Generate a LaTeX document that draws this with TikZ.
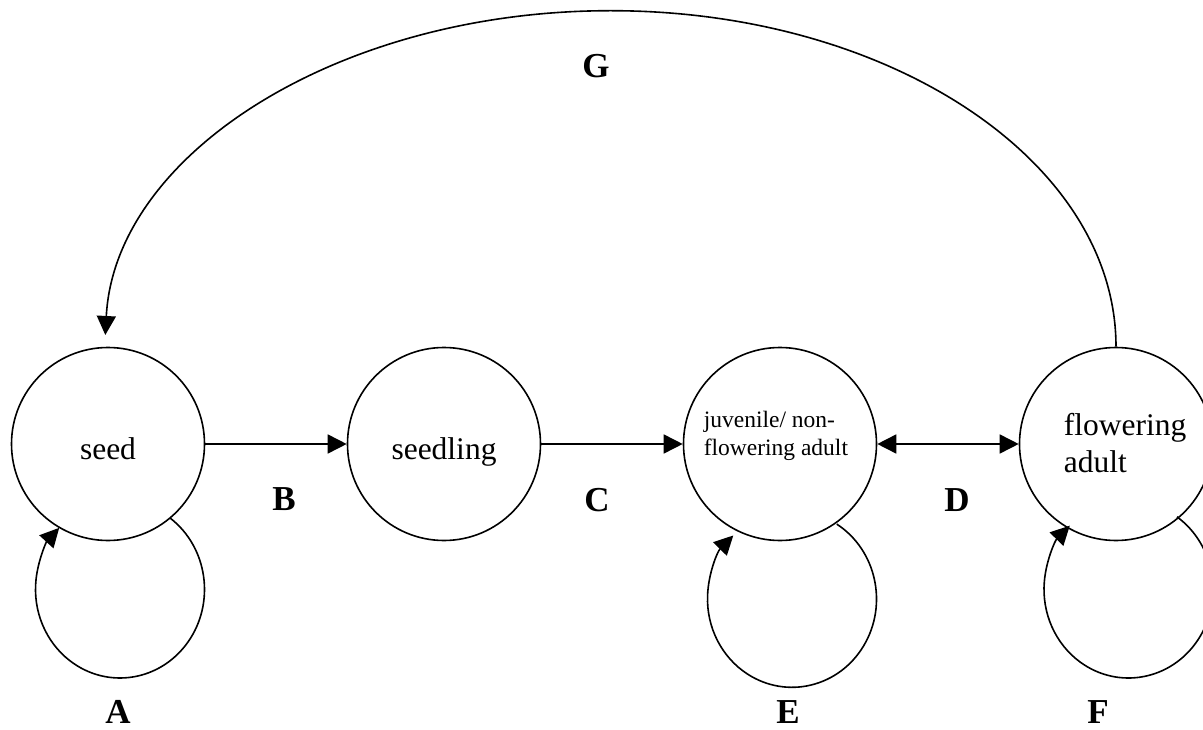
\documentclass[tikz,border=0pt]{standalone}
\usepackage{fontspec}
\setmainfont{Liberation Serif}
\usetikzlibrary{arrows.meta,calc}
\begin{document}
\begin{tikzpicture}[x=1pt,y=-1pt,
  line width=1.6pt,
  stage/.style={circle,draw,minimum size=193pt,inner sep=0pt},
  bigtxt/.style={font=\fontsize{31.5}{37}\selectfont,inner sep=0pt},
  smalltxt/.style={font=\fontsize{23.5}{28}\selectfont,inner sep=0pt},
  lbl/.style={font=\fontsize{35}{40}\selectfont\bfseries,inner sep=0pt},
  arr/.style={-{Triangle[length=19pt,width=19pt]}},
  dblarr/.style={{Triangle[length=19pt,width=19pt]}-{Triangle[length=19pt,width=19pt]}}]
\clip (0,0) rectangle (1203,730);
% stages
\node[stage] (seed) at (108,444) {};
\node[stage] (seedling) at (444,444) {};
\node[stage] (juv) at (780,444) {};
\node[stage] (flower) at (1116,444) {};
% texts
\node[bigtxt,anchor=base] (tseed) at (108,459) {seed};
\node[bigtxt,anchor=base] (tseedling) at (444,459) {seedling};
\node[smalltxt,anchor=base west,align=left] (tjuv) at (703,455) {juvenile/ non-\\flowering adult};
\node[bigtxt,anchor=base west,align=left] (tflower) at (1063,472) {flowering\\adult};
% transitions
\draw[arr] (seed) -- (seedling);
\draw[arr] (seedling) -- (juv);
\draw[dblarr] (juv) -- (flower);
\draw[arr] (flower.north) arc[start angle=0,end angle=-178,x radius=505.5,y radius=336];
% loops
\draw[arr] ($(seed.center)+(12,145.4)+(-53.6:84.5 and 88.6)$) arc[start angle=-53.6,end angle=224,x radius=84.5,y radius=88.6];
\draw[arr] ($(juv.center)+(12,155)+(-58:84.5 and 88.3)$) arc[start angle=-58,end angle=226,x radius=84.5,y radius=88.3];
\draw[arr] ($(flower.center)+(12.5,145.4)+(-55:84.5 and 88.6)$) arc[start angle=-55,end angle=226,x radius=84.5,y radius=88.6];
% labels
\node[lbl] (A) at (118,712) {A};
\node[lbl] (B) at (284,499) {B};
\node[lbl] (C) at (597,500) {C};
\node[lbl] (D) at (957,500) {D};
\node[lbl] (E) at (788,712) {E};
\node[lbl] (F) at (1098,712) {F};
\node[lbl] (G) at (596,66) {G};
\end{tikzpicture}
\end{document}
